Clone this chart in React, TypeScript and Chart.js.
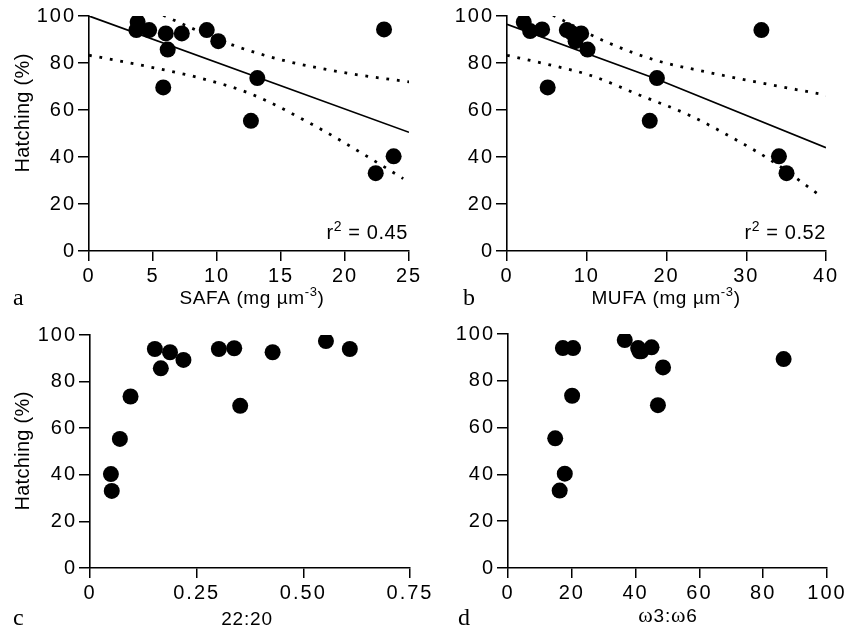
import React, { useEffect, useRef } from "react";
import { Chart, registerables } from "chart.js";

Chart.register(...registerables);

// ---------- data ----------
// Panel a: SAFA
const safaX = [3.8, 3.7, 4.7, 6.0, 6.15, 7.25, 9.2, 10.1, 5.8, 13.15, 12.65, 23.05, 22.4, 23.8];
const safaY = [97.4, 94.0, 94.0, 92.6, 85.7, 92.6, 94.0, 89.3, 69.6, 73.6, 55.4, 94.3, 33.1, 40.3];
const safaFitX = [0, 25];
const safaFitY = [100, 50.5];
const safaUpperX = [5.8, 8.5, 11.3, 15.2, 20.4, 25.1];
const safaUpperY = [100.3, 93.7, 87.5, 81.1, 75.5, 71.9];
const safaLowerX = [0, 4.77, 8.67, 12.58, 17.79, 21.2, 24.55];
const safaLowerY = [83.3, 78.3, 73.6, 67.0, 52.8, 42.0, 30.8];

// Panel b: MUFA
const mufaX = [2.1, 2.9, 4.4, 5.1, 7.5, 8.2, 9.3, 8.6, 10.1, 18.8, 17.9, 31.9, 34.1, 35.05];
const mufaY = [97.4, 93.6, 94.3, 69.6, 94.0, 92.6, 92.6, 89.3, 85.7, 73.6, 55.4, 94.0, 40.3, 33.1];
const mufaFitX = [0, 18.75, 40];
const mufaFitY = [96.5, 73.2, 44];
const mufaUpperX = [5.77, 12.5, 18.7, 25.0, 31.3, 40.1];
const mufaUpperY = [100.3, 88.9, 81.1, 76.2, 71.9, 66.3];
const mufaLowerX = [0, 4.73, 10.4, 16.65, 22.9, 29.2, 33.4, 39.2];
const mufaLowerY = [83.3, 79.7, 74.8, 66.3, 57.7, 46.4, 37.9, 23.7];

// Panel c: 22:20
const ratioX = [0.049, 0.051, 0.070, 0.095, 0.152, 0.166, 0.1875, 0.219, 0.302, 0.338, 0.352, 0.428, 0.553, 0.609];
const ratioY = [40.3, 33.1, 55.4, 73.6, 94.0, 85.7, 92.6, 89.3, 94.0, 94.3, 69.6, 92.6, 97.4, 94.0];
const ratioTickLabels = ["0", "0.25", "0.50", "0.75"];

// Panel d: omega3:omega6
const omegaX = [17.2, 20.4, 20.1, 14.8, 17.8, 16.2, 36.6, 40.8, 41.8, 41.2, 45.0, 48.6, 47.0, 86.4];
const omegaY = [94.0, 94.0, 73.6, 55.4, 40.3, 33.1, 97.4, 94.0, 92.6, 92.6, 94.3, 85.7, 69.6, 89.3];

const yTicksStep = 20;

// ---------- helpers ----------
const SANS = "'Liberation Sans', Arial, Helvetica, sans-serif";
const SERIF = "'Liberation Serif', 'Times New Roman', serif";

const pts = (xs: number[], ys: number[]) => xs.map((x, i) => ({ x, y: ys[i] }));

type Seg = { t: string; font: string; dy?: number };
type TextItem = {
  segs: Seg[];
  x: number;
  y: number;
  align: "left" | "center" | "right";
  rotate?: boolean;
  spacing?: number;
};

function textPlugin(items: TextItem[]) {
  return {
    id: "panelTexts",
    beforeDraw(chart: any) {
      (chart.ctx as any).letterSpacing = "2px";
    },
    afterDraw(chart: any) {
      const ctx = chart.ctx as any;
      ctx.save();
      ctx.fillStyle = "#000";
      ctx.textBaseline = "alphabetic";
      ctx.textAlign = "left";
      for (const it of items) {
        ctx.letterSpacing = (it.spacing ?? 0) + "px";
        const widths = it.segs.map((s) => {
          ctx.font = s.font;
          return ctx.measureText(s.t).width;
        });
        const total = widths.reduce((a, b) => a + b, 0);
        const start = it.align === "left" ? 0 : it.align === "center" ? -total / 2 : -total;
        ctx.save();
        ctx.translate(it.x, it.y);
        if (it.rotate) ctx.rotate(-Math.PI / 2);
        let cx = start;
        it.segs.forEach((s, i) => {
          ctx.font = s.font;
          ctx.fillText(s.t, cx, s.dy ?? 0);
          cx += widths[i];
        });
        ctx.restore();
      }
      ctx.restore();
    },
  };
}

type Spec = {
  left: number;
  top: number;
  w: number;
  h: number;
  axisL: number;
  padT: number;
  padR: number;
  axisB: number;
  xMax: number;
  xStep: number;
  xLabels?: string[];
  points: { x: number; y: number }[];
  fit?: { x: number; y: number }[];
  upper?: { x: number; y: number }[];
  lower?: { x: number; y: number }[];
  texts: TextItem[];
};

const f = (size: number, fam = SANS) => `${size}px ${fam}`;

const yTitle = (cy: number): TextItem => ({
  segs: [{ t: "Hatching (%)", font: f(20) }],
  x: 29,
  y: cy,
  align: "center",
  rotate: true,
  spacing: 0.3,
});

const specs: Spec[] = [
  {
    left: 0, top: 0, w: 445, h: 310,
    axisL: 89, padT: 16, padR: 36, axisB: 59,
    xMax: 25, xStep: 5,
    points: pts(safaX, safaY),
    fit: pts(safaFitX, safaFitY),
    upper: pts(safaUpperX, safaUpperY),
    lower: pts(safaLowerX, safaLowerY),
    texts: [
      yTitle(113),
      {
        segs: [
          { t: "SAFA (mg µm", font: f(19) },
          { t: "-3", font: f(13), dy: -8 },
          { t: ")", font: f(19) },
        ],
        x: 252, y: 304, align: "center", spacing: 0.6,
      },
      { segs: [{ t: "a", font: f(24, SERIF) }], x: 13, y: 305, align: "left" },
      {
        segs: [
          { t: "r", font: f(20) },
          { t: "2", font: f(14), dy: -8 },
          { t: " = 0.45", font: f(20) },
        ],
        x: 408, y: 239, align: "right", spacing: 0.6,
      },
    ],
  },
  {
    left: 429, top: 0, w: 429, h: 310,
    axisL: 78, padT: 16, padR: 32, axisB: 59,
    xMax: 40, xStep: 10,
    points: pts(mufaX, mufaY),
    fit: pts(mufaFitX, mufaFitY),
    upper: pts(mufaUpperX, mufaUpperY),
    lower: pts(mufaLowerX, mufaLowerY),
    texts: [
      {
        segs: [
          { t: "MUFA (mg µm", font: f(19) },
          { t: "-3", font: f(13), dy: -8 },
          { t: ")", font: f(19) },
        ],
        x: 237, y: 304, align: "center", spacing: 0.6,
      },
      { segs: [{ t: "b", font: f(24, SERIF) }], x: 34, y: 305, align: "left" },
      {
        segs: [
          { t: "r", font: f(20) },
          { t: "2", font: f(14), dy: -8 },
          { t: " = 0.52", font: f(20) },
        ],
        x: 397, y: 239, align: "right", spacing: 0.6,
      },
    ],
  },
  {
    left: 0, top: 310, w: 445, h: 321,
    axisL: 90, padT: 25, padR: 35, axisB: 63,
    xMax: 0.75, xStep: 0.25, xLabels: ratioTickLabels,
    points: pts(ratioX, ratioY),
    texts: [
      yTitle(141),
      { segs: [{ t: "22:20", font: f(19) }], x: 247, y: 315, align: "center", spacing: 0.8 },
      { segs: [{ t: "c", font: f(24, SERIF) }], x: 13, y: 315, align: "left" },
    ],
  },
  {
    left: 429, top: 310, w: 429, h: 321,
    axisL: 79, padT: 24, padR: 31, axisB: 63,
    xMax: 100, xStep: 20,
    points: pts(omegaX, omegaY),
    texts: [
      {
        segs: [
          { t: "ω", font: f(22, SERIF) },
          { t: "3:", font: f(19) },
          { t: "ω", font: f(22, SERIF) },
          { t: "6", font: f(19) },
        ],
        x: 239, y: 312, align: "center", spacing: 0.8,
      },
      { segs: [{ t: "d", font: f(24, SERIF) }], x: 29, y: 315, align: "left" },
    ],
  },
];

function makeConfig(s: Spec): any {
  const datasets: any[] = [
    {
      data: s.points,
      pointRadius: 8,
      pointBackgroundColor: "#000",
      pointBorderWidth: 0,
      showLine: false,
    },
  ];
  if (s.fit) {
    datasets.push({
      data: s.fit,
      showLine: true,
      pointRadius: 0,
      borderColor: "#000",
      borderWidth: 1.7,
      tension: 0,
    });
  }
  for (const band of [s.upper, s.lower]) {
    if (!band) continue;
    datasets.push({
      data: band,
      showLine: true,
      pointRadius: 0,
      borderColor: "#000",
      borderWidth: 2.8,
      borderDash: [2.8, 7.8],
      borderCapStyle: "butt",
      cubicInterpolationMode: "monotone",
    });
  }
  const tickFont = { family: SANS, size: 20 };
  return {
    type: "scatter",
    data: { datasets },
    options: {
      animation: false,
      responsive: false,
      maintainAspectRatio: false,
      events: [],
      layout: { padding: { left: 0, top: s.padT, right: s.padR, bottom: 0 } },
      plugins: { legend: { display: false }, tooltip: { enabled: false }, title: { display: false } },
      scales: {
        x: {
          type: "linear",
          min: 0,
          max: s.xMax,
          ticks: {
            stepSize: s.xStep,
            color: "#000",
            font: tickFont,
            padding: 3,
            maxRotation: 0,
            autoSkip: false,
            callback: (v: number, i: number) => (s.xLabels ? s.xLabels[i] : String(v)),
          },
          grid: { drawOnChartArea: false, drawTicks: true, tickLength: 10, color: "#000", lineWidth: 1.5 },
          border: { display: true, color: "#000", width: 1.6 },
          afterFit: (sc: any) => {
            sc.height = s.axisB;
            sc.paddingLeft = 0;
            sc.paddingRight = 0;
          },
        },
        y: {
          type: "linear",
          min: 0,
          max: 100,
          ticks: {
            stepSize: yTicksStep,
            color: "#000",
            font: tickFont,
            padding: 2,
          },
          grid: { drawOnChartArea: false, drawTicks: true, tickLength: 11, color: "#000", lineWidth: 1.5 },
          border: { display: true, color: "#000", width: 1.6 },
          afterFit: (sc: any) => {
            sc.width = s.axisL;
            sc.paddingTop = 0;
            sc.paddingBottom = 0;
          },
        },
      },
    },
    plugins: [textPlugin(s.texts)],
  };
}

function Panel({ spec }: { spec: Spec }) {
  const ref = useRef<HTMLCanvasElement>(null);
  useEffect(() => {
    const chart = new Chart(ref.current as HTMLCanvasElement, makeConfig(spec));
    return () => chart.destroy();
  }, [spec]);
  return (
    <canvas
      ref={ref}
      width={spec.w}
      height={spec.h}
      style={{ position: "absolute", left: spec.left, top: spec.top, width: spec.w, height: spec.h }}
    />
  );
}

export default function App() {
  return (
    <div
      style={{
        position: "absolute",
        left: 0,
        top: 0,
        width: 858,
        height: 631,
        background: "#fff",
        overflow: "hidden",
      }}
    >
      {specs.map((s, i) => (
        <Panel key={i} spec={s} />
      ))}
    </div>
  );
}
